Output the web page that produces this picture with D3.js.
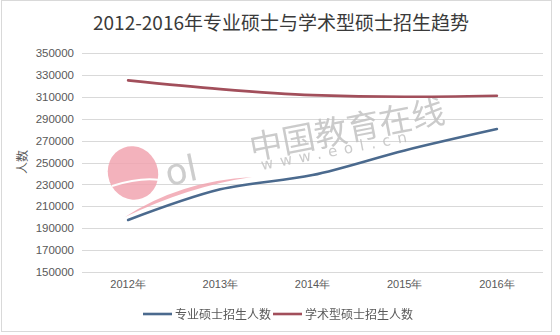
<!DOCTYPE html>
<html><head><meta charset="utf-8">
<script src="https://cdn.jsdelivr.net/npm/d3@7/dist/d3.min.js"></script>
<style>
html,body{margin:0;padding:0;background:#fff;}
svg{display:block;font-family:"Microsoft YaHei","Noto Sans CJK SC",sans-serif;}
</style></head><body>
<svg id="c" width="560" height="335"></svg>
<script>
const title = "2012-2016年专业硕士与学术型硕士招生趋势";
const categories = ["2012年","2013年","2014年","2015年","2016年"];
const seriesNames = ["专业硕士招生人数","学术型硕士招生人数"];
const professional = [197500, 225500, 238500, 261000, 280500];
const academic = [325000, 317000, 311500, 310000, 311000];
const yTicks = [150000,170000,190000,210000,230000,250000,270000,290000,310000,330000,350000];
const yTitle = "人数";
const colors = ["#4b6a8e","#a24f5b"];

const svg = d3.select("#c");
// frame
svg.append("rect").attr("x",1.5).attr("y",0.5).attr("width",550).attr("height",331)
  .attr("fill","#fff").attr("stroke","#d9d9d9");

const x = d3.scaleBand().domain(categories).range([82,543]);
const y = d3.scaleLinear().domain([150000,350000]).range([272,53]);

// gridlines
svg.append("g").selectAll("line").data(yTicks).join("line")
  .attr("x1",82).attr("x2",543).attr("y1",d=>Math.round(y(d))+0.5).attr("y2",d=>Math.round(y(d))+0.5)
  .attr("stroke","#d9d9d9").attr("stroke-width",1);

// y axis labels
const yAxis = d3.axisLeft(y).tickValues(yTicks).tickSize(0).tickPadding(0).tickFormat(d3.format("d"));
const gy = svg.append("g").attr("transform","translate(74,0)").call(yAxis);
gy.select(".domain").remove();
gy.selectAll("text").attr("fill","#595959").attr("font-size","11.5px")
  .attr("font-family","\"Liberation Sans\",Arial,sans-serif");

// x axis labels
const xAxis = d3.axisBottom(x).tickSize(0).tickPadding(0);
const gx = svg.append("g").attr("transform","translate(0,280)").call(xAxis);
gx.select(".domain").remove();
gx.selectAll("text").attr("fill","#595959").attr("font-size","11px");

// y title
svg.append("text").attr("transform","translate(27,162) rotate(-90)")
  .attr("text-anchor","middle").attr("fill","#595959").attr("font-size","12px").text(yTitle);

// title
svg.append("text").attr("x",281).attr("y",30).attr("text-anchor","middle")
  .attr("fill","#3a3a3a").attr("font-size","19px").text(title);

// watermark
const wm = svg.append("g").attr("opacity",0.85);
wm.append("ellipse").attr("cx",133).attr("cy",173).attr("rx",25).attr("ry",27)
  .attr("transform","rotate(-20,133,173)").attr("fill","#f1a5b0");
wm.append("path").attr("d","M112,186 Q140,177 160,180").attr("stroke","#fff").attr("stroke-width",2).attr("fill","none");
wm.append("text").attr("x",168).attr("y",186).attr("font-size","36px")
  .attr("fill","#c4c4c4").attr("font-family","\"DejaVu Sans\",sans-serif")
  .attr("transform","rotate(-12,168,186)").text("ol");
wm.append("path").attr("d","M125,217 Q180,181 252,177 Q190,186 125,217 Z").attr("fill","#f1a5b0");
wm.append("text").attr("x",252).attr("y",160).attr("font-size","33px").attr("fill","#c2c2c2")
  .attr("transform","rotate(-11,252,160)").text("中国教育在线");
wm.append("text").attr("x",262).attr("y",170).attr("font-size","15px").attr("fill","#c2c2c2")
  .attr("letter-spacing","7px").attr("font-family","\"DejaVu Sans\",sans-serif")
  .attr("transform","rotate(-11,262,170)").text("www.eol.cn");

// lines
const line = d3.line().x((d,i)=>x(categories[i])+x.bandwidth()/2).y(d=>y(d)).curve(d3.curveMonotoneX);
[professional, academic].forEach((s,i)=>{
  svg.append("path").datum(s).attr("d",line).attr("fill","none")
    .attr("stroke",colors[i]).attr("stroke-width",2.6).attr("stroke-linecap","round");
});

// legend
const leg = [{x:143,tx:175},{x:273,tx:305}];
seriesNames.forEach((n,i)=>{
  svg.append("line").attr("x1",leg[i].x).attr("x2",leg[i].x+29).attr("y1",314).attr("y2",314)
    .attr("stroke",colors[i]).attr("stroke-width",2.6);
  svg.append("text").attr("x",leg[i].tx).attr("y",318.5).attr("font-size","12px")
    .attr("fill","#595959").text(n);
});
</script>
</body></html>
